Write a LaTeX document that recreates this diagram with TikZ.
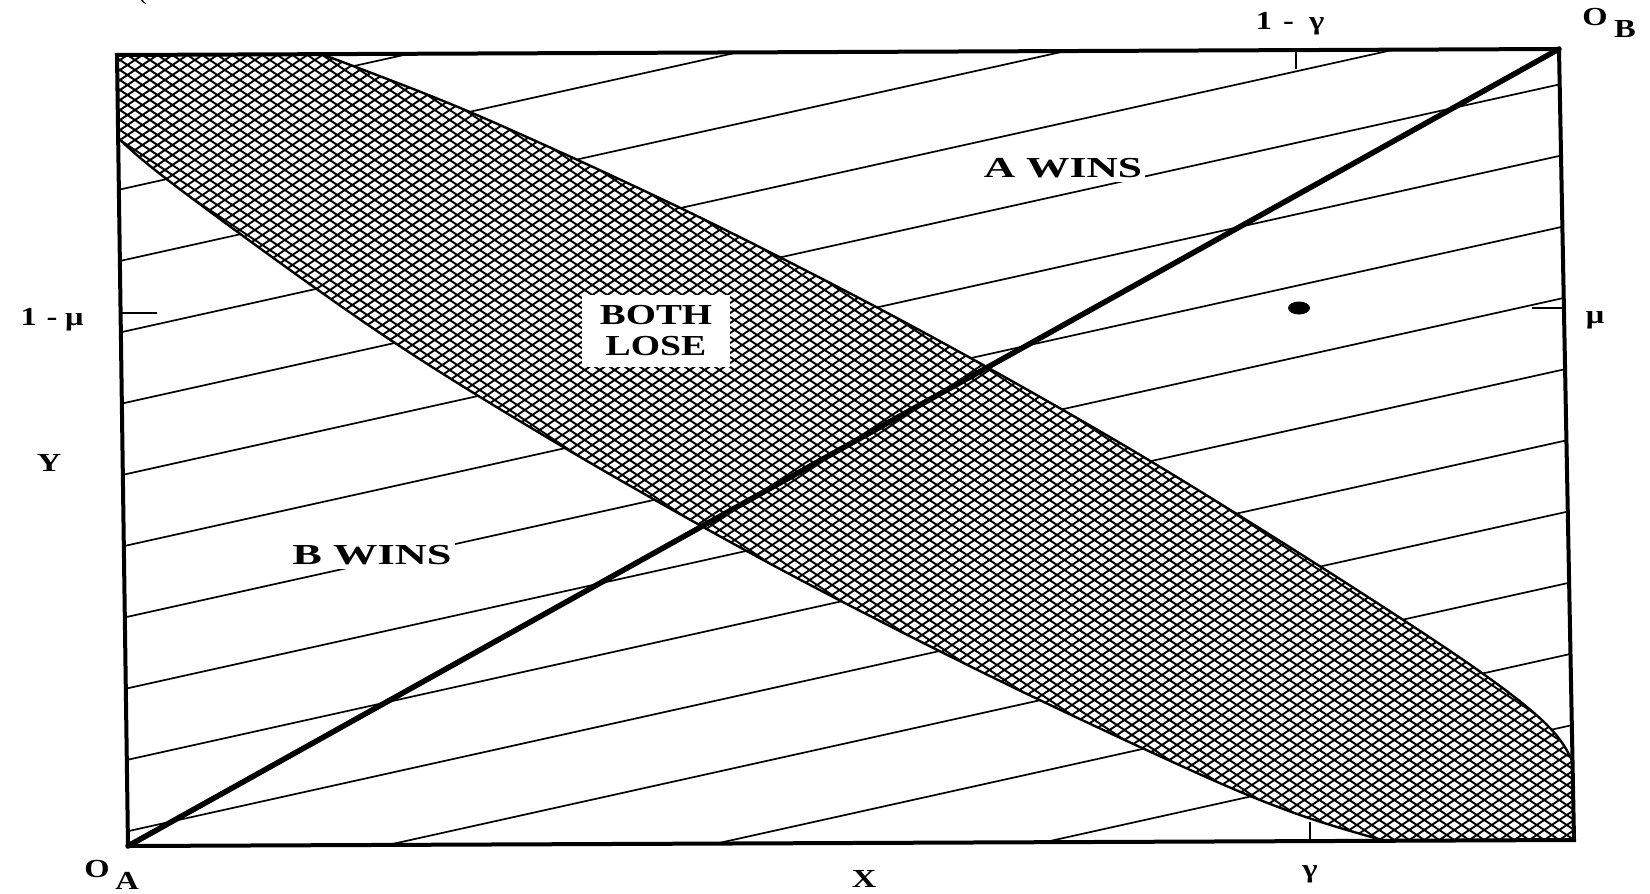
\documentclass[tikz,border=0pt]{standalone}
\usepackage{fontspec}
\setmainfont{Liberation Serif}
\begin{document}
\begin{tikzpicture}[x=1pt,y=-1pt,
  inlbl/.style={font=\bfseries\fontsize{29}{31}\selectfont, inner sep=0pt, align=center},
  outlbl/.style={font=\bfseries\fontsize{26}{28}\selectfont, inner sep=0pt},
  boxline/.style={line width=4pt, line join=miter},
  diagline/.style={line width=5.5pt, line cap=round},
  hatch/.style={line width=1.7pt},
  mesh/.style={line width=1.9pt},
  lensline/.style={line width=2.4pt},
  tickline/.style={line width=2.5pt},
]
\useasboundingbox (0,0) rectangle (1650,894);
\fill[white] (0,0) rectangle (1650,894);
% corners of the frame
\coordinate (TL) at (117,55);
\coordinate (TR) at (1559,49);
\coordinate (BR) at (1574,840);
\coordinate (BL) at (128,846);
\def\lens{plot[smooth cycle, tension=0.55] coordinates {
  (28,8) (100,-6) (170,6) (261,33) (369,72) (493,122) (697,216) (910,325)
  (1120,443) (1310,560) (1472,666) (1550,728) (1580,778) (1600,840)
  (1592,888) (1540,884) (1470,862) (1400,845) (1300,815) (1197,773)
  (994,678) (780,569) (570,451) (380,333) (177,187) (104,124) (40,52)}}
% hatch lines and lens
\begin{scope}
  \clip (TL) -- (TR) -- (BR) -- (BL) -- cycle;
  \foreach \k in {-3,...,11}
    \draw[hatch] (0,{359.1+71.5*\k}) -- (1650,{-7.2+71.5*\k});
  \fill[white] \lens;
  \begin{scope}
    \clip \lens;
    \foreach \c in {-1020,-1010,...,800}
      \draw[mesh] (100,{66.7+\c}) -- (1600,{1067.2+\c});
    \foreach \c in {110,120,...,1920}
      \draw[mesh] (100,{-66.7+\c}) -- (1600,{-1067.2+\c});
  \end{scope}
  \draw[lensline] \lens;
\end{scope}
% region labels
\node[inlbl, fill=white, inner xsep=3pt, inner ysep=4pt] (awins) at (1063,168) {\scalebox{1.5}[1]{A WINS}};
\node[inlbl, fill=white, inner xsep=3pt, inner ysep=4pt] (bwins) at (372,555) {\scalebox{1.53}[1]{B WINS}};
\node[fill=white, inner sep=0pt, minimum width=148pt, minimum height=72pt] (loseback) at (656,331) {};
\node[inlbl] (lose) at (656,331) {\scalebox{1.34}[1]{BOTH}\\\scalebox{1.3}[1]{LOSE}};
% diagonal and frame
\draw[diagline] (BL) -- (TR);
\draw[boxline] (TL) -- (TR) -- (BR) -- (BL) -- cycle;
% ticks
\coordinate (tl1) at (121,313); \coordinate (tl2) at (157,313);
\coordinate (tr1) at (1564,308); \coordinate (tr2) at (1532,308);
\coordinate (tt1) at (1296,49); \coordinate (tt2) at (1296,69);
\coordinate (tb1) at (1310,841); \coordinate (tb2) at (1310,822);
\draw[tickline] (tl1) -- (tl2);
\draw[tickline] (tr1) -- (tr2);
\draw[tickline] (tt1) -- (tt2);
\draw[tickline] (tb1) -- (tb2);
% dot
\fill (1299,308) ellipse [x radius=11pt, y radius=6.5pt];
% cut-off caption fragment at the top
\node[font=\fontsize{30}{30}\selectfont, inner sep=0pt] (paren) at (142,-9) {(};
% outer labels
\node[outlbl] (onegamma) at (1290,24) {\scalebox{1.25}[1]{1\hspace{9pt}-\hspace{12pt}γ}};
\node[outlbl] (ob) at (1595,17) {\scalebox{1.25}[1]{O}};
\node[outlbl] (obs) at (1625,29) {\scalebox{1.25}[1]{B}};
\node[outlbl] (onemu) at (52,320) {\scalebox{1.25}[1]{1\hspace{8pt}-\hspace{6pt}μ}};
\node[outlbl] (ylab) at (49,463) {\scalebox{1.3}[1]{Y}};
\node[outlbl] (mu) at (1595,320) {\scalebox{1.25}[1]{μ}};
\node[outlbl] (oa) at (97,869) {\scalebox{1.25}[1]{O}};
\node[outlbl] (oas) at (127,881) {\scalebox{1.25}[1]{A}};
\node[outlbl] (xlab) at (864,879) {\scalebox{1.3}[1]{X}};
\node[outlbl] (gam) at (1310,874) {\scalebox{1.25}[1]{γ}};
\end{tikzpicture}
\end{document}
